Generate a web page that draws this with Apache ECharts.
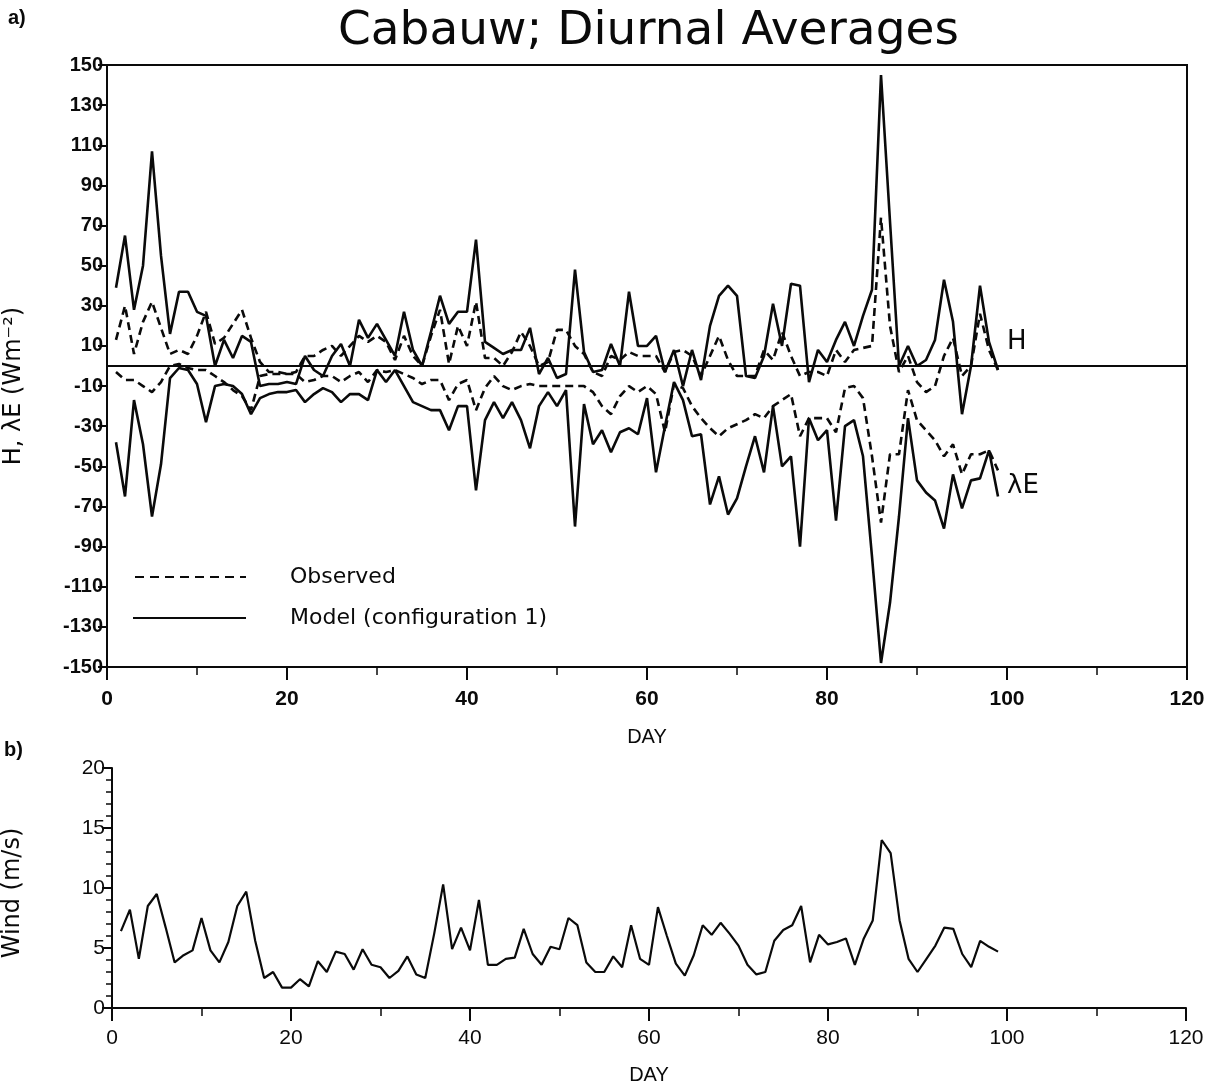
<!DOCTYPE html>
<html><head><meta charset="utf-8">
<script src="https://cdn.jsdelivr.net/npm/echarts@6/dist/echarts.min.js"></script>
<style>html,body{margin:0;padding:0;background:#fff}#c{width:1222px;height:1086px}</style>
</head><body><div id="c"></div>
<script>
const days = [1,2,3,4,5,6,7,8,9,10,11,12,13,14,15,16,17,18,19,20,21,22,23,24,25,26,27,28,29,30,31,32,33,34,35,36,37,38,39,40,41,42,43,44,45,46,47,48,49,50,51,52,53,54,55,56,57,58,59,60,61,62,63,64,65,66,67,68,69,70,71,72,73,74,75,76,77,78,79,80,81,82,83,84,85,86,87,88,89,90,91,92,93,94,95,96,97,98,99];
const hModel = [39,65,28,50,107,55,16,37,37,27, 25,0,13,4,15,12,-10,-9,-9,-8, -9,5,-2,-5,5,11,0,23,14,21, 13,5,27,8,0,17,35,21,27,27, 63,12,9,6,8,8,19,-4,4,-6, -4,48,7,-3,-2,11,0,37,10,10, 15,-3,8,-10,8,-7,20,35,40,35, -5,-6,5,31,10,41,40,-8,8,2, 13,22,10,25,38,145,72,0,10,0, 3,13,43,22,-24,0,40,12,-2];
const hObs = [13,30,6,22,32,19,6,8,6,15, 27,11,14,21,28,14,2,-3,-3,-4, -3,5,5,8,10,5,10,15,12,15, 12,3,15,5,0,15,28,1,20,10, 32,4,4,0,7,17,10,0,2,18, 18,10,6,-3,-5,5,3,7,5,5, 5,-3,7,8,5,-5,5,15,3,-5, -5,-5,8,3,17,5,-5,-3,-3,-5, 8,2,8,9,10,74,20,-3,5,-8, -13,-10,5,14,-5,0,26,8,-2];
const leModel = [-38,-65,-17,-39,-75,-49,-6,-1,-2,-9, -28,-10,-9,-10,-14,-24,-16,-14,-13,-13, -12,-18,-14,-11,-13,-18,-14,-14,-17,-2, -8,-2,-10,-18,-20,-22,-22,-32,-20,-20, -62,-27,-18,-26,-18,-27,-41,-20,-13,-20, -12,-80,-19,-39,-32,-43,-33,-31,-34,-16, -53,-30,-8,-17,-35,-34,-69,-55,-74,-66, -50,-35,-53,-20,-50,-45,-90,-26,-37,-32, -77,-30,-27,-45,-95,-148,-118,-75,-26,-57, -63,-67,-81,-54,-71,-57,-56,-42,-65];
const leObs = [-3,-7,-7,-10,-13,-8,0,1,-1,-2, -2,-5,-8,-12,-15,-22,-5,-4,-4,-4, -4,-8,-7,-5,-5,-8,-5,-3,-8,-2, -3,-2,-4,-6,-9,-7,-7,-17,-9,-7, -22,-11,-5,-10,-12,-10,-9,-10,-10,-10, -10,-10,-10,-13,-20,-24,-15,-10,-13,-10, -14,-33,-9,-11,-20,-26,-31,-35,-31,-29, -27,-24,-26,-20,-17,-14,-35,-26,-26,-26, -33,-11,-10,-16,-45,-78,-44,-44,-12,-27, -32,-37,-45,-39,-54,-44,-44,-42,-52];
const wind = [6.4,8.2,4.1,8.5,9.5,6.7,3.8,4.4,4.8,7.5, 4.8,3.8,5.5,8.5,9.7,5.6,2.5,3.0,1.7,1.7, 2.4,1.8,3.9,3.0,4.7,4.5,3.2,4.9,3.6,3.4, 2.5,3.1,4.3,2.8,2.5,6.2,10.3,4.9,6.7,4.8, 9.0,3.6,3.6,4.1,4.2,6.6,4.5,3.6,5.1,4.9, 7.5,6.9,3.8,3.0,3.0,4.3,3.4,6.9,4.1,3.6, 8.4,6.0,3.7,2.7,4.4,6.9,6.1,7.1,6.2,5.2, 3.6,2.8,3.0,5.6,6.5,6.9,8.5,3.8,6.1,5.3, 5.5,5.8,3.6,5.8,7.3,14.0,12.9,7.3,4.1,3.0, 4.1,5.2,6.7,6.6,4.5,3.4,5.6,5.1,4.7];
const fluxTicks = [-150,-130,-110,-90,-70,-50,-30,-10,10,30,50,70,90,110,130,150];

const FONT = 'DejaVu Sans';
const TICKFONT = 'Liberation Sans';
const INK = '#0a0a0a';
const pair = arr => arr.map((v, i) => [days[i], v]);

const chart = echarts.init(document.getElementById('c'), null, {renderer: 'canvas'});

function xAxisCfg(gi, gap, margin, weight) {
  return {
    type: 'value', gridIndex: gi, min: 0, max: 120, interval: 20,
    name: 'DAY', nameLocation: 'middle', nameGap: gap,
    nameTextStyle: {fontFamily: TICKFONT, fontSize: 20, color: INK},
    axisLine: {show: true, onZero: false, lineStyle: {color: INK, width: 2}},
    axisTick: {show: true, inside: false, length: 13, lineStyle: {color: INK, width: 2}},
    minorTick: {show: true, splitNumber: 2, length: 8, lineStyle: {color: INK, width: 1.5}},
    axisLabel: {fontFamily: TICKFONT, fontWeight: weight, fontSize: 21, color: INK, margin: margin},
    splitLine: {show: false}
  };
}

const lineBase = {type: 'line', symbol: 'none', silent: true, animation: false, z: 3};

chart.setOption({
  animation: false,
  backgroundColor: '#fff',
  grid: [
    {left: 107, top: 65, width: 1080, height: 602, show: true, borderColor: INK, borderWidth: 2, backgroundColor: 'transparent'},
    {left: 112, top: 768, width: 1074, height: 244}
  ],
  xAxis: [xAxisCfg(0, 60, 22, 'bold'), xAxisCfg(1, 57, 20, 'normal')],
  yAxis: [
    {
      type: 'value', gridIndex: 0, min: -150, max: 150,
      axisLine: {show: true, lineStyle: {color: INK, width: 2}},
      axisTick: {show: true, length: 9, customValues: fluxTicks, lineStyle: {color: INK, width: 2}},
      axisLabel: {fontFamily: TICKFONT, fontWeight: 'bold', fontSize: 20, color: INK, margin: 4, customValues: fluxTicks},
      splitLine: {show: false}
    },
    {
      type: 'value', gridIndex: 1, min: 0, max: 20, interval: 5,
      axisLine: {show: true, lineStyle: {color: INK, width: 2}},
      axisTick: {show: true, length: 10, lineStyle: {color: INK, width: 2}},
      minorTick: {show: true, splitNumber: 5, length: 6, lineStyle: {color: INK, width: 1.5}},
      axisLabel: {fontFamily: TICKFONT, fontSize: 21, color: INK, margin: 7},
      splitLine: {show: false}
    }
  ],
  series: [
    Object.assign({}, lineBase, {name: 'Observed', xAxisIndex: 0, yAxisIndex: 0, data: pair(hObs),
      lineStyle: {color: INK, width: 2.6, type: [8, 5]},
      markLine: {silent: true, symbol: ['none', 'none'], label: {show: false},
        lineStyle: {color: INK, width: 2.2, type: 'solid'}, data: [{yAxis: 0}]}}),
    Object.assign({}, lineBase, {name: 'Observed', xAxisIndex: 0, yAxisIndex: 0, data: pair(leObs),
      lineStyle: {color: INK, width: 2.6, type: [8, 5]}}),
    Object.assign({}, lineBase, {name: 'Model (configuration 1)', xAxisIndex: 0, yAxisIndex: 0, data: pair(hModel),
      lineStyle: {color: INK, width: 2.6}}),
    Object.assign({}, lineBase, {name: 'Model (configuration 1)', xAxisIndex: 0, yAxisIndex: 0, data: pair(leModel),
      lineStyle: {color: INK, width: 2.6}}),
    Object.assign({}, lineBase, {name: 'Wind', xAxisIndex: 1, yAxisIndex: 1, data: pair(wind),
      lineStyle: {color: INK, width: 2.2}})
  ],
  graphic: [
    {type: 'text', left: 338, top: 8, style: {text: 'Cabauw; Diurnal Averages', fontFamily: FONT, fontSize: 47, fill: INK}},
    {type: 'text', left: 8, top: 8, style: {text: 'a)', fontFamily: TICKFONT, fontSize: 20, fontWeight: 'bold', fill: INK}},
    {type: 'text', left: 4, top: 740, style: {text: 'b)', fontFamily: TICKFONT, fontSize: 20, fontWeight: 'bold', fill: INK}},
    {type: 'text', x: 14, y: 386, rotation: Math.PI / 2,
      style: {text: 'H, \u03bbE (Wm\u207b\u00b2)', fontFamily: FONT, fontSize: 24, fill: INK, align: 'center', verticalAlign: 'middle'}},
    {type: 'text', x: 13, y: 893, rotation: Math.PI / 2,
      style: {text: 'Wind (m/s)', fontFamily: FONT, fontSize: 24, fill: INK, align: 'center', verticalAlign: 'middle'}},
    {type: 'line', shape: {x1: 135, y1: 577, x2: 246, y2: 577}, style: {stroke: INK, lineWidth: 2, lineDash: [9, 6]}},
    {type: 'line', shape: {x1: 133, y1: 618, x2: 246, y2: 618}, style: {stroke: INK, lineWidth: 2}},
    {type: 'text', left: 290, top: 566, style: {text: 'Observed', fontFamily: FONT, fontSize: 22, fill: INK}},
    {type: 'text', left: 290, top: 607, style: {text: 'Model (configuration 1)', fontFamily: FONT, fontSize: 22, fill: INK}},
    {type: 'text', left: 1007, top: 329, style: {text: 'H', fontFamily: FONT, fontSize: 26, fill: INK}},
    {type: 'text', left: 1007, top: 473, style: {text: '\u03bbE', fontFamily: FONT, fontSize: 26, fill: INK}}
  ]
});
</script>
</body></html>
